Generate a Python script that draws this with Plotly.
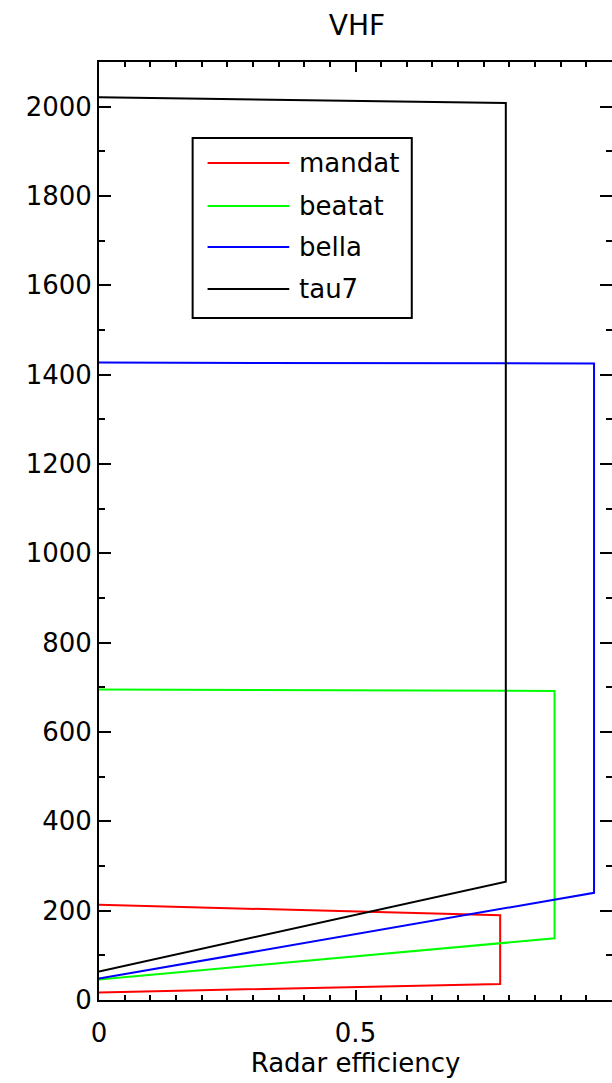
import plotly.graph_objects as go

# ---- data ----
series_names = ["mandat", "beatat", "bella", "tau7"]
series_colors = ["#ff0000", "#00ff00", "#0000ff", "#000000"]

mandat_x = [0.0, 0.782, 0.782, 0.0]
mandat_y = [17, 36, 190, 213]

beatat_x = [0.0, 0.888, 0.888, 0.0]
beatat_y = [46, 138, 692, 695]

bella_x = [0.0, 0.965, 0.965, 0.0]
bella_y = [48, 240, 1425, 1427]

tau7_x = [0.0, 0.793, 0.793, 0.0]
tau7_y = [64, 265, 2008, 2021]

x_tickvals = [0, 0.5, 1]
x_ticktext = ["0", "0.5", "1"]
y_tickvals = [0, 200, 400, 600, 800, 1000, 1200, 1400, 1600, 1800, 2000]
y_ticktext = [str(v) for v in y_tickvals]

title_text = "VHF"
x_title = "Radar efficiency"

FONT = "DejaVu Sans"
W, H = 616, 1083
L, R, T, B = 99, 2, 62, 83

fig = go.Figure()
xs = [mandat_x, beatat_x, bella_x, tau7_x]
ys = [mandat_y, beatat_y, bella_y, tau7_y]
for name, color, x, y in zip(series_names, series_colors, xs, ys):
    fig.add_trace(go.Scatter(x=x, y=y, mode="lines", name=name,
                             line=dict(color=color, width=2),
                             showlegend=False, hoverinfo="skip"))

# ---- manual IDL-style legend (paper coordinates of the plot area) ----
pw = W - L - R
ph = H - T - B
def px2x(px):
    return (px - L) / pw
def py2y(py):
    return (H - B - py) / ph

shapes = [dict(type="rect", xref="paper", yref="paper",
               x0=px2x(193), x1=px2x(413), y0=py2y(318), y1=py2y(138),
               line=dict(color="black", width=2), fillcolor="white", layer="above")]
annotations = []
row_py = [163, 206, 247, 289]
for name, color, py in zip(series_names, series_colors, row_py):
    shapes.append(dict(type="line", xref="paper", yref="paper",
                       x0=px2x(208), x1=px2x(290), y0=py2y(py), y1=py2y(py),
                       line=dict(color=color, width=2), layer="above"))
    annotations.append(dict(xref="paper", yref="paper", x=px2x(298), y=py2y(py),
                            text=name, showarrow=False, xanchor="left", yanchor="middle",
                            font=dict(family=FONT, size=26, color="black")))

axis_common = dict(showline=True, linecolor="black", linewidth=2,
                   mirror="ticks", ticks="inside", tickcolor="black",
                   tickwidth=2, showgrid=False, zeroline=False,
                   tickfont=dict(family=FONT, size=26, color="black"))

fig.update_layout(
    width=W, height=H,
    margin=dict(l=L, r=R, t=T, b=B),
    paper_bgcolor="white", plot_bgcolor="white",
    title=dict(text=title_text, x=px2x(357) * pw / W + L / W, xanchor="center",
               y=1 - 25 / H, yanchor="middle", yref="container",
               font=dict(family=FONT, size=28, color="black")),
    xaxis=dict(range=[0, 1], tickvals=x_tickvals, ticktext=x_ticktext,
               ticklen=10, ticklabelstandoff=9,
               minor=dict(dtick=0.05, ticks="inside", ticklen=5, tickwidth=2, tickcolor="black"),
               title=dict(text=x_title, font=dict(family=FONT, size=26, color="black"), standoff=4),
               **axis_common),
    yaxis=dict(range=[0, 2100], tickvals=y_tickvals, ticktext=y_ticktext,
               ticklen=12,
               minor=dict(dtick=100, ticks="inside", ticklen=6, tickwidth=2, tickcolor="black"),
               **axis_common),
    shapes=shapes, annotations=annotations,
    showlegend=False,
)

fig.write_html("out.html",
               post_script="document.documentElement.style.overflow='hidden';"
                           "document.body.style.overflow='hidden';"
                           "document.body.style.margin='0';")
